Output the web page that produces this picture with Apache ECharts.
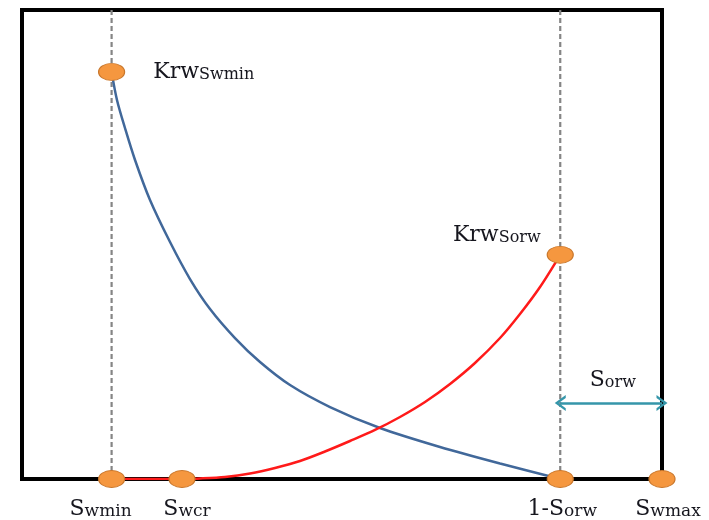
<!DOCTYPE html>
<html><head><meta charset="utf-8">
<script src="https://cdn.jsdelivr.net/npm/echarts@6/dist/echarts.min.js"></script>
<style>html,body{margin:0;padding:0;background:#fff}#c{width:709px;height:520px}</style>
</head><body><div id="c"></div>
<script>
// Normalised saturation (x) and relative permeability (y)
const swmin = 0.14, swcr = 0.25, oneMinusSorw = 0.841, swmax = 1.0;
const krwSwmin = 0.868, krwSorw = 0.478, arrowY = 0.162;
const blueCurve = [[0.14,0.868],[0.1484,0.8081],[0.1609,0.7484],[0.1766,0.6802],[0.2,0.5949],[0.2313,0.5053],[0.2625,0.4264],[0.2938,0.3625],[0.3328,0.3006],[0.3719,0.2495],[0.4188,0.2004],[0.4813,0.1535],[0.5594,0.1087],[0.6531,0.0682],[0.7469,0.0330],[0.841,0]];
const redCurve = [[0.25,0],[0.2781,0.0011],[0.3172,0.0043],[0.3563,0.0117],[0.3953,0.0235],[0.4344,0.0384],[0.4734,0.0586],[0.5125,0.0810],[0.5516,0.1045],[0.5906,0.1322],[0.6297,0.1642],[0.6688,0.2026],[0.7078,0.2473],[0.7469,0.3006],[0.7781,0.3518],[0.8094,0.4094],[0.841,0.478]];
const redFlat = [[0.14,0],[0.25,0]];

const serif = 'DejaVu Serif';
const txt = '#16161e';
const rich = {
  a:{fontSize:22,fontFamily:serif,color:txt,verticalAlign:'bottom',lineHeight:26},
  b:{fontSize:16,fontFamily:serif,color:txt,verticalAlign:'bottom',lineHeight:8},
  c:{fontSize:17,fontFamily:serif,color:txt,verticalAlign:'bottom',lineHeight:8}
};
const chart = echarts.init(document.getElementById('c'));
const orange = '#F5973F', orangeB = '#C9772C';
function pt(x,y,text,pos,offset){
  return {value:[x,y],label:{show:!!text,formatter:text||'',position:pos||'bottom',distance:4,offset:offset||[0,0],color:txt,rich:rich}};
}
const chev = 'path://M0,10 L5,0 L10,10 L8.2,10 L5,3.6 L1.8,10 Z';
chart.setOption({
  animation:false,
  grid:{left:22,right:47,top:10,bottom:41,show:true,borderColor:'#000',borderWidth:4,backgroundColor:'#fff'},
  xAxis:{type:'value',min:0,max:1,axisLine:{show:false},axisTick:{show:false},axisLabel:{show:false},splitLine:{show:false}},
  yAxis:{type:'value',min:0,max:1,axisLine:{show:false},axisTick:{show:false},axisLabel:{show:false},splitLine:{show:false}},
  series:[
    {type:'line',data:[[swmin,0],[swmin,1]],symbol:'none',lineStyle:{color:'#858585',width:2.2,type:[5,3]},z:1},
    {type:'line',data:[[oneMinusSorw,0],[oneMinusSorw,1]],symbol:'none',lineStyle:{color:'#858585',width:2.2,type:[5,3]},z:1},
    {type:'line',data:blueCurve,symbol:'none',smooth:0.3,lineStyle:{color:'#41689A',width:2.5},z:2},
    {type:'line',data:redFlat,symbol:'none',lineStyle:{color:'#FF1A1A',width:2.5},z:2},
    {type:'line',data:redCurve,symbol:'none',smooth:0.3,lineStyle:{color:'#FF1A1A',width:2.5},z:2},
    {type:'line',data:[],symbol:'none',z:3,
      markLine:{silent:true,symbol:[chev,chev],symbolSize:[16,11],
        lineStyle:{color:'#3596AA',width:2.5,type:'solid'},label:{show:false},
        data:[[{coord:[oneMinusSorw,arrowY]},{coord:[swmax,arrowY]}]]}},
    {type:'scatter',symbol:'circle',symbolSize:[26,17],itemStyle:{color:orange,borderColor:orangeB,borderWidth:1,opacity:1},z:5,
      data:[
        pt(swmin,krwSwmin,'{a|Krw}{b|Swmin}','right',[24,-2]),
        pt(oneMinusSorw,krwSorw,'{a|Krw}{b|Sorw}','left',[-2,-22]),
        pt(swmin,0,'{a|S}{c|wmin}','bottom',[-11,2]),
        pt(swcr,0,'{a|S}{c|wcr}','bottom',[5,2]),
        pt(oneMinusSorw,0,'{a|1-S}{c|orw}','bottom',[2,2]),
        pt(swmax,0,'{a|S}{c|wmax}','bottom',[6,2]),
        {value:[0.92,0.215],symbolSize:1,itemStyle:{color:'rgba(0,0,0,0)',borderWidth:0},label:{show:true,position:'inside',formatter:'{a|S}{b|orw}',color:txt,rich:rich,offset:[2,0]}}
      ]}
  ]
});
</script></body></html>
